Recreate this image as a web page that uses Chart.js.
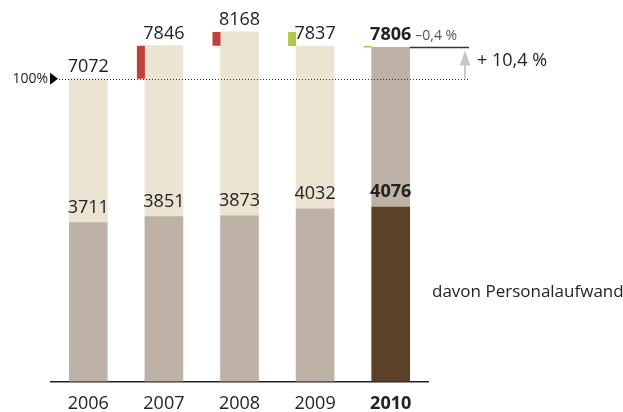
<!DOCTYPE html>
<html>
<head>
<meta charset="utf-8">
<script src="https://cdn.jsdelivr.net/npm/chart.js@4/dist/chart.umd.min.js"></script>
<style>
  html, body { margin: 0; padding: 0; background: #fff; }
  canvas { display: block; }
</style>
</head>
<body>
<canvas id="chart" width="623" height="412"></canvas>
<script>
const years = ['2006', '2007', '2008', '2009', '2010'];
const totals = [7072, 7846, 8168, 7837, 7806];
const personnel = [3711, 3851, 3873, 4032, 4076];
const baseLabel = '100%';
const changeLabel = '\u20130,4 %';
const growthLabel = '+ 10,4 %';
const personnelLabel = 'davon Personalaufwand';

const FONT = '"Open Sans", "Noto Sans", sans-serif';
const last = years.length - 1;

// change vs previous year, drawn as thin floating bars left of each column
const changes = years.map((_, i) => i === 0 ? null : [totals[i - 1], totals[i]]);

const annotations = {
  id: 'annotations',
  afterDatasetsDraw(chart) {
    const ctx = chart.ctx;
    const y = chart.scales.y;
    const bars = chart.getDatasetMeta(2).data;
    ctx.save();
    ctx.fillStyle = '#222';
    ctx.textAlign = 'center';
    ctx.textBaseline = 'alphabetic';

    // value labels
    bars.forEach((bar, i) => {
      const bold = i === last ? 'bold ' : '';
      ctx.font = bold + '18px ' + FONT;
      ctx.fillText(String(totals[i]), bar.x, y.getPixelForValue(totals[i]) - 7);
      ctx.fillText(String(personnel[i]), bar.x, y.getPixelForValue(personnel[i]) - 10);
    });

    // change label next to last total
    const lastBar = bars[last];
    ctx.font = 'bold 18px ' + FONT;
    const w = ctx.measureText(String(totals[last])).width;
    ctx.font = '14px ' + FONT;
    ctx.fillStyle = '#555';
    ctx.textAlign = 'left';
    ctx.fillText(changeLabel, lastBar.x + w / 2 + 4, y.getPixelForValue(totals[last]) - 7.5);

    // 100% reference line
    const y0 = y.getPixelForValue(totals[0]);
    ctx.strokeStyle = '#333';
    ctx.lineWidth = 1;
    ctx.setLineDash([1, 2]);
    ctx.beginPath();
    ctx.moveTo(59, Math.round(y0) + 0.5);
    ctx.lineTo(470, Math.round(y0) + 0.5);
    ctx.stroke();
    ctx.setLineDash([]);

    ctx.fillStyle = '#000';
    ctx.beginPath();
    ctx.moveTo(50, y0 - 6);
    ctx.lineTo(58, y0);
    ctx.lineTo(50, y0 + 6);
    ctx.closePath();
    ctx.fill();

    ctx.fillStyle = '#222';
    ctx.font = '14px ' + FONT;
    ctx.textAlign = 'right';
    ctx.textBaseline = 'middle';
    ctx.fillText(baseLabel, 48, y0);

    // top line of last year and growth arrow
    const y1 = y.getPixelForValue(totals[last]);
    ctx.strokeStyle = '#333';
    ctx.lineWidth = 1.5;
    ctx.beginPath();
    ctx.moveTo(lastBar.x + lastBar.width / 2, y1);
    ctx.lineTo(469, y1);
    ctx.stroke();

    const ax = 465;
    ctx.strokeStyle = '#bbb';
    ctx.lineWidth = 1.5;
    ctx.beginPath();
    ctx.moveTo(ax, y0);
    ctx.lineTo(ax, y1 + 16);
    ctx.stroke();
    ctx.fillStyle = '#c8c8c8';
    ctx.beginPath();
    ctx.moveTo(ax, y1 + 3);
    ctx.lineTo(ax + 5.5, y1 + 18);
    ctx.lineTo(ax - 5.5, y1 + 18);
    ctx.closePath();
    ctx.fill();

    ctx.fillStyle = '#222';
    ctx.font = '18px ' + FONT;
    ctx.textAlign = 'left';
    ctx.fillText(growthLabel, 477, (y0 + y1) / 2 - 2);

    ctx.font = '17px ' + FONT;
    ctx.textBaseline = 'alphabetic';
    ctx.fillText(personnelLabel, 432, 297);
    ctx.restore();
  }
};

new Chart(document.getElementById('chart'), {
  type: 'bar',
  data: {
    labels: years,
    datasets: [
      {
        label: 'Veränderung',
        data: changes,
        stack: 'm',
        categoryPercentage: 0.913,
        barPercentage: 0.348,
        backgroundColor: changes.map(c => c && c[1] > c[0] ? '#c0403a' : '#b3c845')
      },
      {
        label: 'Personalaufwand',
        data: personnel,
        stack: 'main',
        barThickness: 38,
        backgroundColor: years.map((_, i) => i === last ? '#5a4127' : '#bdb2a5')
      },
      {
        label: 'Gesamt',
        data: personnel.map((p, i) => [p, totals[i]]),
        stack: 'main',
        barThickness: 38,
        backgroundColor: years.map((_, i) => i === last ? '#bdb2a5' : '#ebe4d2')
      },
      {
        label: '',
        data: [],
        stack: 'z',
        barThickness: 38
      }
    ]
  },
  options: {
    responsive: false,
    animation: false,
    devicePixelRatio: 1,
    layout: { padding: { left: 50.5, right: 194.5, top: 1, bottom: 0 } },
    plugins: {
      legend: { display: false },
      tooltip: { enabled: false }
    },
    scales: {
      x: {
        grid: { display: false, drawTicks: false },
        border: { display: true, color: '#222', width: 1.5 },
        afterFit: scale => { scale.height = 30.5; },
        ticks: {
          padding: 12,
          color: '#222',
          font: ctx => ({ family: FONT, size: 18, weight: ctx.index === last ? 'bold' : 'normal' })
        }
      },
      y: {
        display: false,
        stacked: false,
        min: 0,
        max: 8890
      }
    }
  },
  plugins: [annotations]
});
</script>
</body>
</html>
